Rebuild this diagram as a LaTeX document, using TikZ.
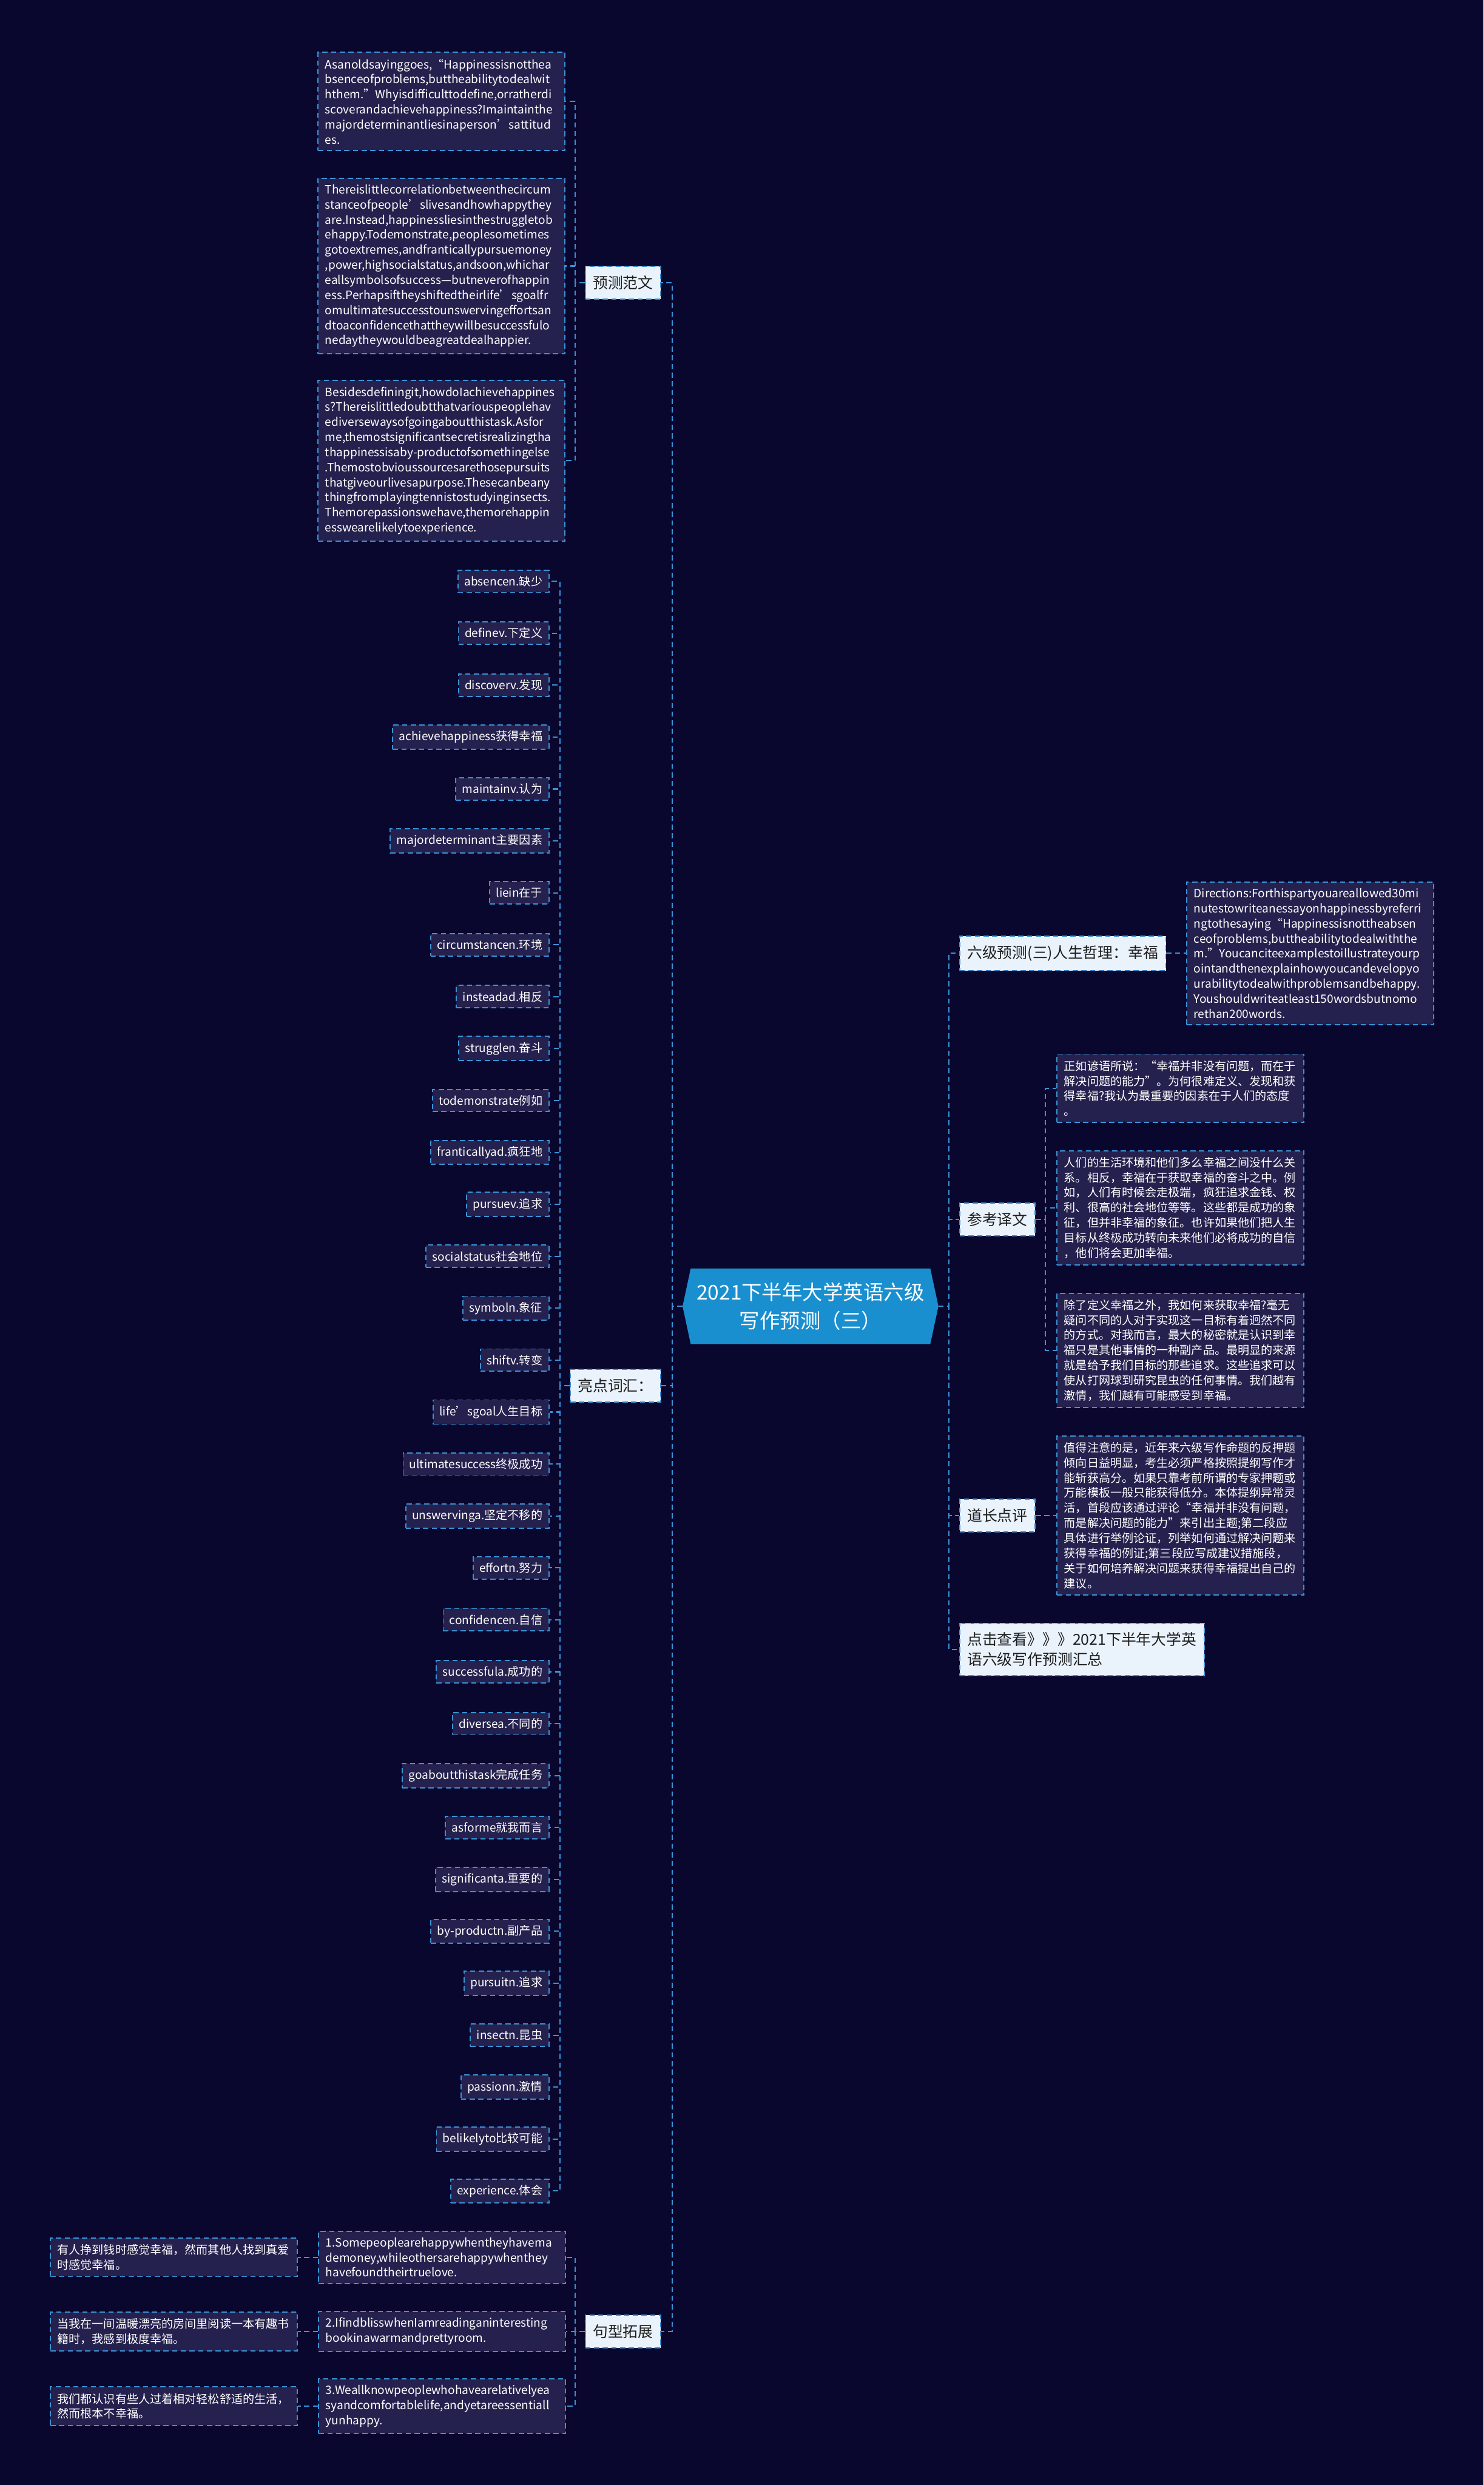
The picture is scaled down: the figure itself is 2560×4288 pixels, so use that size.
\documentclass[tikz,border=0pt]{standalone}
\usepackage{fontspec}
\setmainfont{Noto Sans CJK SC}
\usetikzlibrary{backgrounds}
\definecolor{bgc}{RGB}{10,7,46}
\definecolor{darkfill}{RGB}{36,33,78}
\definecolor{lightfill}{RGB}{234,242,252}
\definecolor{lineblue}{RGB}{58,146,214}
\definecolor{hexblue}{RGB}{26,143,208}
\definecolor{darktext}{RGB}{30,30,30}
\begin{document}
\begin{tikzpicture}[x=1pt,y=-1pt,
 conn/.style={draw=lineblue,line width=2.2pt,dash pattern=on 9pt off 6pt},
 dbox/.style={draw=lineblue,line width=2pt,dash pattern=on 9pt off 6pt,fill=darkfill,text=white,font=\fontsize{20}{26}\selectfont,inner xsep=12pt,inner ysep=11pt,align=left,text width=402pt,anchor=west},
 wbox/.style={draw=lineblue,line width=2pt,dash pattern=on 9pt off 6pt,fill=darkfill,text=white,font=\fontsize{20}{26}\selectfont,inner xsep=11pt,inner ysep=10pt,anchor=east},
 lbox/.style={draw=lineblue,line width=2pt,dash pattern=on 9pt off 6pt,fill=lightfill,text=darktext,font=\fontsize{26}{34}\selectfont,inner xsep=13pt,inner ysep=16pt,align=left},
]
\useasboundingbox (0,0) rectangle (2560,4288);

% trunks
\coordinate (ltr) at (1160,0);
\coordinate (rtr) at (1637,0);
\coordinate (ytr) at (992,0);
\coordinate (vtr) at (966,0);
\coordinate (str) at (992,0);
\coordinate (ktr) at (1804,0);

% center
\node[minimum width=441pt,minimum height=130pt,inner sep=0pt,text=white,align=center,font=\fontsize{35}{49}\selectfont] (c) at (1398.5,2254) {2021下半年大学英语六级\\写作预测（三）};

% left level 1
\node[lbox,anchor=east] (yc) at (1141,488) {预测范文};
\node[lbox,anchor=east] (vocab) at (1141,2391) {亮点词汇：};
\node[lbox,anchor=east] (sent) at (1141,4023) {句型拓展};

% right level 1
\node[lbox,anchor=west] (r1) at (1655,1645) {六级预测(三)人生哲理：幸福};
\node[lbox,anchor=west] (r2) at (1655,2104) {参考译文};
\node[lbox,anchor=west] (r3) at (1655,2615) {道长点评};
\node[lbox,anchor=west] (r4) at (1655,2846) {点击查看》》》2021下半年大学英\\语六级写作预测汇总};

% essays
\node[dbox] (p1) at (548,175) {Asanoldsayinggoes,“Happinessisnotthea\\bsenceofproblems,buttheabilitytodealwit\\hthem.”Whyisdifficulttodefine,orratherdi\\scoverandachievehappiness?Imaintainthe\\majordeterminantliesinaperson’sattitud\\es.};
\node[dbox] (p2) at (548,459) {Thereislittlecorrelationbetweenthecircum\\stanceofpeople’slivesandhowhappythey\\are.Instead,happinessliesinthestruggletob\\ehappy.Todemonstrate,peoplesometimes\\gotoextremes,andfranticallypursuemoney\\,power,highsocialstatus,andsoon,whichar\\eallsymbolsofsuccess—butneverofhappin\\ess.Perhapsiftheyshiftedtheirlife’sgoalfr\\omultimatesuccesstounswervingeffortsan\\dtoaconfidencethattheywillbesuccessfulo\\nedaytheywouldbeagreatdealhappier.};
\node[dbox] (p3) at (548,795) {Besidesdefiningit,howdoIachievehappines\\s?Thereislittledoubtthatvariouspeoplehav\\ediversewaysofgoingaboutthistask.Asfor\\me,themostsignificantsecretisrealizingtha\\thappinessisaby-productofsomethingelse\\.Themostobvioussourcesarethosepursuits\\thatgiveourlivesapurpose.Thesecanbeany\\thingfromplayingtennistostudyinginsects.\\Themorepassionswehave,themorehappin\\esswearelikelytoexperience.};

% right children
\node[dbox] (d) at (2047,1645) {Directions:Forthispartyouareallowed30mi\\nutestowriteanessayonhappinessbyreferri\\ngtothesaying“Happinessisnottheabsen\\ceofproblems,buttheabilitytodealwiththe\\m.”Youcanciteexamplestoillustrateyourp\\ointandthenexplainhowyoucandevelopyo\\urabilitytodealwithproblemsandbehappy.\\Youshouldwriteatleast150wordsbutnomo\\rethan200words.};
\node[dbox] (t1) at (1823,1878) {正如谚语所说：“幸福并非没有问题，而在于\\解决问题的能力”。为何很难定义、发现和获\\得幸福?我认为最重要的因素在于人们的态度\\。};
\node[dbox] (t2) at (1823,2084) {人们的生活环境和他们多么幸福之间没什么关\\系。相反，幸福在于获取幸福的奋斗之中。例\\如，人们有时候会走极端，疯狂追求金钱、权\\利、很高的社会地位等等。这些都是成功的象\\征，但并非幸福的象征。也许如果他们把人生\\目标从终极成功转向未来他们必将成功的自信\\，他们将会更加幸福。};
\node[dbox] (t3) at (1823,2330) {除了定义幸福之外，我如何来获取幸福?毫无\\疑问不同的人对于实现这一目标有着迥然不同\\的方式。对我而言，最大的秘密就是认识到幸\\福只是其他事情的一种副产品。最明显的来源\\就是给予我们目标的那些追求。这些追求可以\\使从打网球到研究昆虫的任何事情。我们越有\\激情，我们越有可能感受到幸福。};
\node[dbox] (k) at (1823,2615) {值得注意的是，近年来六级写作命题的反押题\\倾向日益明显，考生必须严格按照提纲写作才\\能斩获高分。如果只靠考前所谓的专家押题或\\万能模板一般只能获得低分。本体提纲异常灵\\活，首段应该通过评论“幸福并非没有问题，\\而是解决问题的能力”来引出主题;第二段应\\具体进行举例论证，列举如何通过解决问题来\\获得幸福的例证;第三段应写成建议措施段，\\关于如何培养解决问题来获得幸福提出自己的\\建议。};

% sentences
\node[dbox] (s1) at (549,3895) {1.Somepeoplearehappywhentheyhavema\\demoney,whileothersarehappywhenthey\\havefoundtheirtruelove.};
\node[dbox] (s2) at (549,4023) {2.IfindblisswhenIamreadinganinteresting\\bookinawarmandprettyroom.};
\node[dbox] (s3) at (549,4152) {3.Weallknowpeoplewhohavearelativelyea\\syandcomfortablelife,andyetareessentiall\\yunhappy.};
\node[dbox] (z1) at (86,3895) {有人挣到钱时感觉幸福，然而其他人找到真爱\\时感觉幸福。};
\node[dbox] (z2) at (86,4023) {当我在一间温暖漂亮的房间里阅读一本有趣书\\籍时，我感到极度幸福。};
\node[dbox] (z3) at (86,4152) {我们都认识有些人过着相对轻松舒适的生活，\\然而根本不幸福。};

% vocabulary
\foreach \w [count=\i] in {absencen.缺少,definev.下定义,discoverv.发现,achievehappiness获得幸福,maintainv.认为,majordeterminant主要因素,liein在于,circumstancen.环境,insteadad.相反,strugglen.奋斗,todemonstrate例如,franticallyad.疯狂地,pursuev.追求,socialstatus社会地位,symboln.象征,shiftv.转变,life’sgoal人生目标,ultimatesuccess终极成功,unswervinga.坚定不移的,effortn.努力,confidencen.自信,successfula.成功的,diversea.不同的,goaboutthistask完成任务,asforme就我而言,significanta.重要的,by-productn.副产品,pursuitn.追求,insectn.昆虫,passionn.激情,belikelyto比较可能,experience.体会}{
  \node[wbox] (w\i) at (948,{1003+89.6*(\i-1)}) {\w};
  \draw[conn] (vocab.west) -- (vocab.west -| vtr) |- (w\i.east);
}

% connectors
\foreach \n in {yc,vocab,sent}{\draw[conn] (c.west) -- (c.west -| ltr) |- (\n.east);}
\foreach \n in {r1,r2,r3,r4}{\draw[conn] (c.east) -- (c.east -| rtr) |- (\n.west);}
\foreach \n in {p1,p2,p3}{\draw[conn] (yc.west) -- (yc.west -| ytr) |- (\n.east);}
\foreach \n in {s1,s2,s3}{\draw[conn] (sent.west) -- (sent.west -| str) |- (\n.east);}
\draw[conn] (s1.west) -- (z1.east);
\draw[conn] (s2.west) -- (z2.east);
\draw[conn] (s3.west) -- (z3.east);
\draw[conn] (r1.east) -- (d.west);
\foreach \n in {t1,t2,t3}{\draw[conn] (r2.east) -- (r2.east -| ktr) |- (\n.west);}
\draw[conn] (r3.east) -- (k.west);

\begin{scope}[on background layer]
\fill[bgc] (0,0) rectangle (2560,4288);
\fill[hexblue] (c.west) -- ([xshift=14pt]c.north west) -- ([xshift=-14pt]c.north east) -- (c.east) -- ([xshift=-14pt]c.south east) -- ([xshift=14pt]c.south west) -- cycle;
\end{scope}
\end{tikzpicture}
\end{document}
